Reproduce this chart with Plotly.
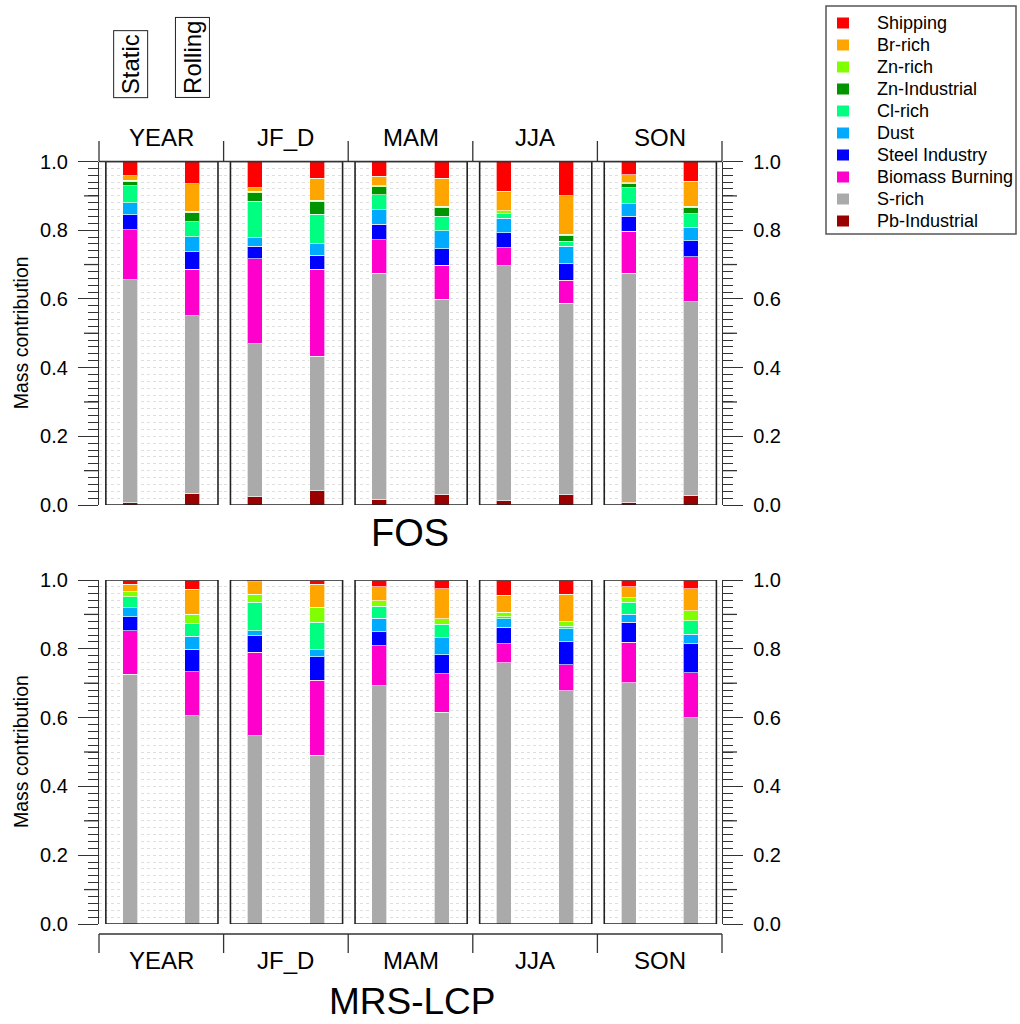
import plotly.graph_objects as go
from plotly.subplots import make_subplots

# ---------------- data ----------------
seasons = ["YEAR", "JF_D", "MAM", "JJA", "SON"]
methods = ["Static", "Rolling"]
sites = ["FOS", "MRS-LCP"]
# stacking order bottom -> top
sources = ["Pb-Industrial", "S-rich", "Biomass Burning", "Steel Industry", "Dust",
           "Cl-rich", "Zn-Industrial", "Zn-rich", "Br-rich", "Shipping"]
colors = ["#990000", "#AAAAAA", "#FF00CC", "#0000FF", "#00AAFF",
          "#00FF80", "#009400", "#80FF00", "#FFA500", "#FF0000"]

# values per season & method: YEAR-S, YEAR-R, JF_D-S, JF_D-R, MAM-S, MAM-R, JJA-S, JJA-R, SON-S, SON-R
fos_pb       = [0.006, 0.034, 0.024, 0.042, 0.016, 0.031, 0.012, 0.030, 0.008, 0.029]
fos_srich    = [0.650, 0.517, 0.446, 0.391, 0.658, 0.568, 0.684, 0.558, 0.667, 0.562]
fos_biomass  = [0.146, 0.136, 0.247, 0.253, 0.098, 0.099, 0.053, 0.066, 0.122, 0.131]
fos_steel    = [0.043, 0.051, 0.036, 0.041, 0.045, 0.048, 0.043, 0.049, 0.044, 0.048]
fos_dust     = [0.035, 0.043, 0.025, 0.034, 0.043, 0.053, 0.043, 0.050, 0.036, 0.039]
fos_cl       = [0.049, 0.044, 0.107, 0.085, 0.043, 0.041, 0.014, 0.015, 0.047, 0.039]
fos_znind    = [0.013, 0.027, 0.024, 0.038, 0.024, 0.027, 0.000, 0.016, 0.011, 0.019]
fos_znrich   = [0.003, 0.003, 0.005, 0.003, 0.003, 0.003, 0.007, 0.004, 0.003, 0.003]
fos_br       = [0.013, 0.080, 0.010, 0.064, 0.027, 0.081, 0.058, 0.113, 0.024, 0.073]
fos_shipping = [0.042, 0.065, 0.076, 0.049, 0.043, 0.049, 0.086, 0.099, 0.038, 0.057]

mrs_pb       = [0.000, 0.000, 0.000, 0.000, 0.000, 0.000, 0.000, 0.000, 0.000, 0.000]
mrs_srich    = [0.726, 0.606, 0.547, 0.491, 0.693, 0.615, 0.760, 0.678, 0.701, 0.599]
mrs_biomass  = [0.126, 0.127, 0.243, 0.218, 0.116, 0.112, 0.054, 0.075, 0.118, 0.132]
mrs_steel    = [0.041, 0.066, 0.048, 0.068, 0.041, 0.055, 0.048, 0.068, 0.058, 0.083]
mrs_dust     = [0.027, 0.038, 0.014, 0.020, 0.039, 0.050, 0.026, 0.038, 0.023, 0.028]
mrs_cl       = [0.031, 0.038, 0.083, 0.080, 0.035, 0.039, 0.005, 0.007, 0.035, 0.039]
mrs_znind    = [0.000, 0.000, 0.000, 0.000, 0.000, 0.000, 0.000, 0.000, 0.000, 0.000]
mrs_znrich   = [0.015, 0.025, 0.024, 0.044, 0.015, 0.016, 0.013, 0.013, 0.014, 0.029]
mrs_br       = [0.021, 0.073, 0.036, 0.066, 0.042, 0.087, 0.050, 0.079, 0.032, 0.064]
mrs_shipping = [0.013, 0.027, 0.005, 0.013, 0.019, 0.026, 0.044, 0.042, 0.019, 0.026]

site_values = [
    [fos_pb, fos_srich, fos_biomass, fos_steel, fos_dust, fos_cl, fos_znind, fos_znrich, fos_br, fos_shipping],
    [mrs_pb, mrs_srich, mrs_biomass, mrs_steel, mrs_dust, mrs_cl, mrs_znind, mrs_znrich, mrs_br, mrs_shipping],
]

ytick_vals = [0.0, 0.2, 0.4, 0.6, 0.8, 1.0]
ytick_text = ["0.0", "0.2", "0.4", "0.6", "0.8", "1.0"]
ylabel = "Mass contribution"

# ---------------- layout geometry (pixels) ----------------
W, H = 1020, 1024
FONT = "Liberation Sans, Arial, sans-serif"
col_bounds = [99, 223.6, 348.2, 472.8, 597.4, 722]
row_px = [(161.5, 505), (580, 924)]  # (top=1.0, bottom=0.0)


def px(x):
    return x / W


def py(y):
    return 1 - y / H


fig = make_subplots(rows=2, cols=5, horizontal_spacing=0.0, vertical_spacing=0.05)

for r in range(2):
    vals_by_source = site_values[r]
    for c in range(5):
        for s, name in enumerate(sources):
            vals = vals_by_source[s][2 * c: 2 * c + 2]
            yv = [v if v > 0 else None for v in vals]
            fig.add_trace(
                go.Bar(
                    x=methods, y=yv, name=name,
                    marker=dict(color=colors[s], line=dict(color="rgba(255,255,255,0.65)", width=1)),
                    width=0.24,
                    showlegend=False,
                    hoverinfo="skip",
                ),
                row=r + 1, col=c + 1,
            )

shapes = []
annotations = []
tick_col = "#333333"
grid_col = "#dedede"

for r in range(2):
    for c in range(5):
        n = r * 5 + c + 1
        xk = "xaxis" if n == 1 else f"xaxis{n}"
        yk = "yaxis" if n == 1 else f"yaxis{n}"
        xr = "x" if n == 1 else f"x{n}"
        yr = "y" if n == 1 else f"y{n}"
        fig.layout[xk].update(
            domain=[px(col_bounds[c]), px(col_bounds[c + 1])],
            type="category", categoryorder="array", categoryarray=methods,
            range=[-0.5, 1.5], showticklabels=False, ticks="", showgrid=False,
            zeroline=False, showline=False, fixedrange=True,
        )
        yconf = dict(
            domain=[py(row_px[r][1]), py(row_px[r][0])],
            range=[0, 1], zeroline=False, fixedrange=True,
            showgrid=True, gridcolor=grid_col, griddash="dot", gridwidth=1,
            tickmode="array", tickvals=ytick_vals, ticktext=ytick_text,
            minor=dict(dtick=0.02, showgrid=True, gridcolor=grid_col, griddash="dot", gridwidth=1,
                       ticks="", ticklen=10, tickcolor=tick_col),
        )
        if c == 0 or c == 4:
            yconf.update(
                side="left" if c == 0 else "right",
                showline=True, linecolor=tick_col, linewidth=1.3,
                ticks="outside", ticklen=20, tickwidth=1.3, tickcolor=tick_col,
                showticklabels=True, ticklabelstandoff=6,
                tickfont=dict(family=FONT, size=20, color="#000"),
            )
            yconf["minor"].update(ticks="outside", tickwidth=1.3)
        else:
            yconf.update(showline=False, ticks="", showticklabels=False)
        fig.layout[yk].update(**yconf)

        # panel box
        shapes.append(dict(type="rect", xref=xr, yref=yr, x0=-0.39, x1=1.41, y0=0, y1=1,
                           line=dict(color="#222222", width=1.6), layer="above"))

    # medium ticks at 0.1, 0.3, ...
    yr_row = "y" if r == 0 else "y6"
    for v in [0.1, 0.3, 0.5, 0.7, 0.9]:
        shapes.append(dict(type="line", xref="paper", yref=yr_row, x0=px(col_bounds[0] - 15), x1=px(col_bounds[0]),
                           y0=v, y1=v, line=dict(color=tick_col, width=1.3)))
        shapes.append(dict(type="line", xref="paper", yref=yr_row, x0=px(col_bounds[-1]), x1=px(col_bounds[-1] + 15),
                           y0=v, y1=v, line=dict(color=tick_col, width=1.3)))

    # y label
    annotations.append(dict(text=ylabel, xref="paper", yref="paper", x=px(21), xanchor="center", yanchor="middle",
                            y=py((row_px[r][0] + row_px[r][1]) / 2), textangle=-90, showarrow=False,
                            font=dict(family=FONT, size=19.5, color="#000")))

# top strip bracket
shapes.append(dict(type="line", xref="paper", yref="paper", x0=px(col_bounds[0]), x1=px(col_bounds[-1]),
                   y0=py(161.5), y1=py(161.5), line=dict(color=tick_col, width=1.3)))
for b in col_bounds:
    shapes.append(dict(type="line", xref="paper", yref="paper", x0=px(b), x1=px(b),
                       y0=py(141), y1=py(161.5), line=dict(color=tick_col, width=1.3)))
# bottom strip bracket
shapes.append(dict(type="line", xref="paper", yref="paper", x0=px(col_bounds[0]), x1=px(col_bounds[-1]),
                   y0=py(934), y1=py(934), line=dict(color=tick_col, width=1.3)))
for b in col_bounds:
    shapes.append(dict(type="line", xref="paper", yref="paper", x0=px(b), x1=px(b),
                       y0=py(934), y1=py(953), line=dict(color=tick_col, width=1.3)))

for c, sname in enumerate(seasons):
    xc = px((col_bounds[c] + col_bounds[c + 1]) / 2)
    annotations.append(dict(text=sname, xref="paper", yref="paper", x=xc, y=py(137), showarrow=False,
                            xanchor="center", yanchor="middle",
                            font=dict(family=FONT, size=24, color="#000")))
    annotations.append(dict(text=sname, xref="paper", yref="paper", x=xc, y=py(960), showarrow=False,
                            xanchor="center", yanchor="middle",
                            font=dict(family=FONT, size=24, color="#000")))

# site titles
annotations.append(dict(text=sites[0], xref="paper", yref="paper", x=px(410), y=py(533), showarrow=False,
                        xanchor="center", yanchor="middle",
                        font=dict(family=FONT, size=38, color="#000")))
annotations.append(dict(text=sites[1], xref="paper", yref="paper", x=px(412), y=py(1023), showarrow=False,
                        xanchor="center", yanchor="bottom", borderpad=0,
                        font=dict(family=FONT, size=37, color="#000")))

# method labels above first panel
for i, m in enumerate(methods):
    annotations.append(dict(text=m, xref="x", yref="paper", x=i, y=py(98), xanchor="center", yanchor="bottom",
                            textangle=-90, showarrow=False, bordercolor="#222222", borderwidth=1, borderpad=3,
                            font=dict(family=FONT, size=24, color="#000")))

# legend (top entry = top of stack)
leg_x0, leg_y0, leg_x1, leg_y1 = 826, 6, 1016, 234
shapes.append(dict(type="rect", xref="paper", yref="paper", x0=px(leg_x0), x1=px(leg_x1),
                   y0=py(leg_y1), y1=py(leg_y0), line=dict(color="#555555", width=1.5),
                   fillcolor="white", layer="above"))
for k, s in enumerate(reversed(range(len(sources)))):
    yc = 23 + 22 * k
    shapes.append(dict(type="rect", xref="paper", yref="paper", x0=px(837), x1=px(849),
                       y0=py(yc + 5.5), y1=py(yc - 5.5), line=dict(width=0),
                       fillcolor=colors[s], layer="above"))
    annotations.append(dict(text=sources[s], xref="paper", yref="paper", x=px(875), y=py(yc),
                            xanchor="left", yanchor="middle", showarrow=False,
                            font=dict(family=FONT, size=18, color="#000")))

fig.update_layout(
    width=W, height=H,
    margin=dict(l=0, r=0, t=0, b=0, autoexpand=False),
    barmode="stack",
    showlegend=False,
    plot_bgcolor="white", paper_bgcolor="white",
    font=dict(family=FONT, color="#000"),
    shapes=shapes, annotations=annotations,
)

fig.write_html("out.html")
